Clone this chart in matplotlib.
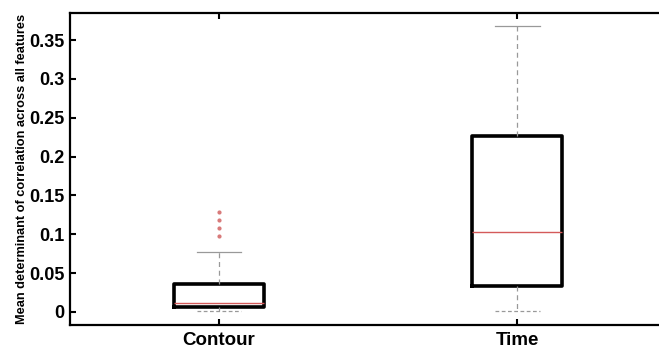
import numpy as np
import matplotlib.pyplot as plt

plt.rcParams['font.family'] = ['Liberation Sans', 'DejaVu Sans']

groups = ['Contour', 'Time']
q1 = [0.0065, 0.0335]
med = [0.0115, 0.103]
q3 = [0.036, 0.226]
whislo = [0.001, 0.001]
whishi = [0.077, 0.368]
outliers = [[0.098, 0.108, 0.118, 0.129], []]

stats = []
for i in range(len(groups)):
    stats.append(dict(label=groups[i], q1=q1[i], med=med[i], q3=q3[i],
                      whislo=whislo[i], whishi=whishi[i], fliers=outliers[i]))

fig = plt.figure(figsize=(6.59, 3.5), dpi=100)
ax = fig.add_axes([0.106, 0.0714, 0.905, 0.8915])

bp = ax.bxp(stats, positions=[1, 2], widths=0.3, showcaps=True,
            boxprops=dict(color='black', linewidth=2.6),
            medianprops=dict(color='#d45a5a', linewidth=1.0),
            whiskerprops=dict(color='#999999', linestyle=(0, (4, 3)), linewidth=0.9),
            capprops=dict(color='#999999', linewidth=0.9),
            flierprops=dict(marker='o', markersize=2, markerfacecolor='#d87a7a',
                            markeredgecolor='#d87a7a', linestyle='none'))
# lower caps dashed like the original
for i, cap in enumerate(bp['caps']):
    if i % 2 == 0:
        cap.set_linestyle((0, (3, 2)))

ax.set_xlim(0.5, 2.5)
ax.set_ylim(-0.017, 0.385)
ax.set_yticks([0, 0.05, 0.1, 0.15, 0.2, 0.25, 0.3, 0.35])
ax.set_yticklabels(['0', '0.05', '0.1', '0.15', '0.2', '0.25', '0.3', '0.35'])
ax.set_xticks([1, 2])
ax.set_xticklabels(groups)
ax.tick_params(direction='in', top=True, right=True, length=4, width=1.5)
ax.tick_params(axis='y', labelsize=13, pad=4)
ax.tick_params(axis='x', labelsize=13.5, pad=5)
for lab in ax.get_xticklabels() + ax.get_yticklabels():
    lab.set_fontweight('bold')
for s in ax.spines.values():
    s.set_linewidth(1.6)
ax.set_ylabel('Mean determinant of correlation across all features',
              fontsize=9.2, fontweight='bold', labelpad=1)

plt.savefig('out.png', dpi=100)
